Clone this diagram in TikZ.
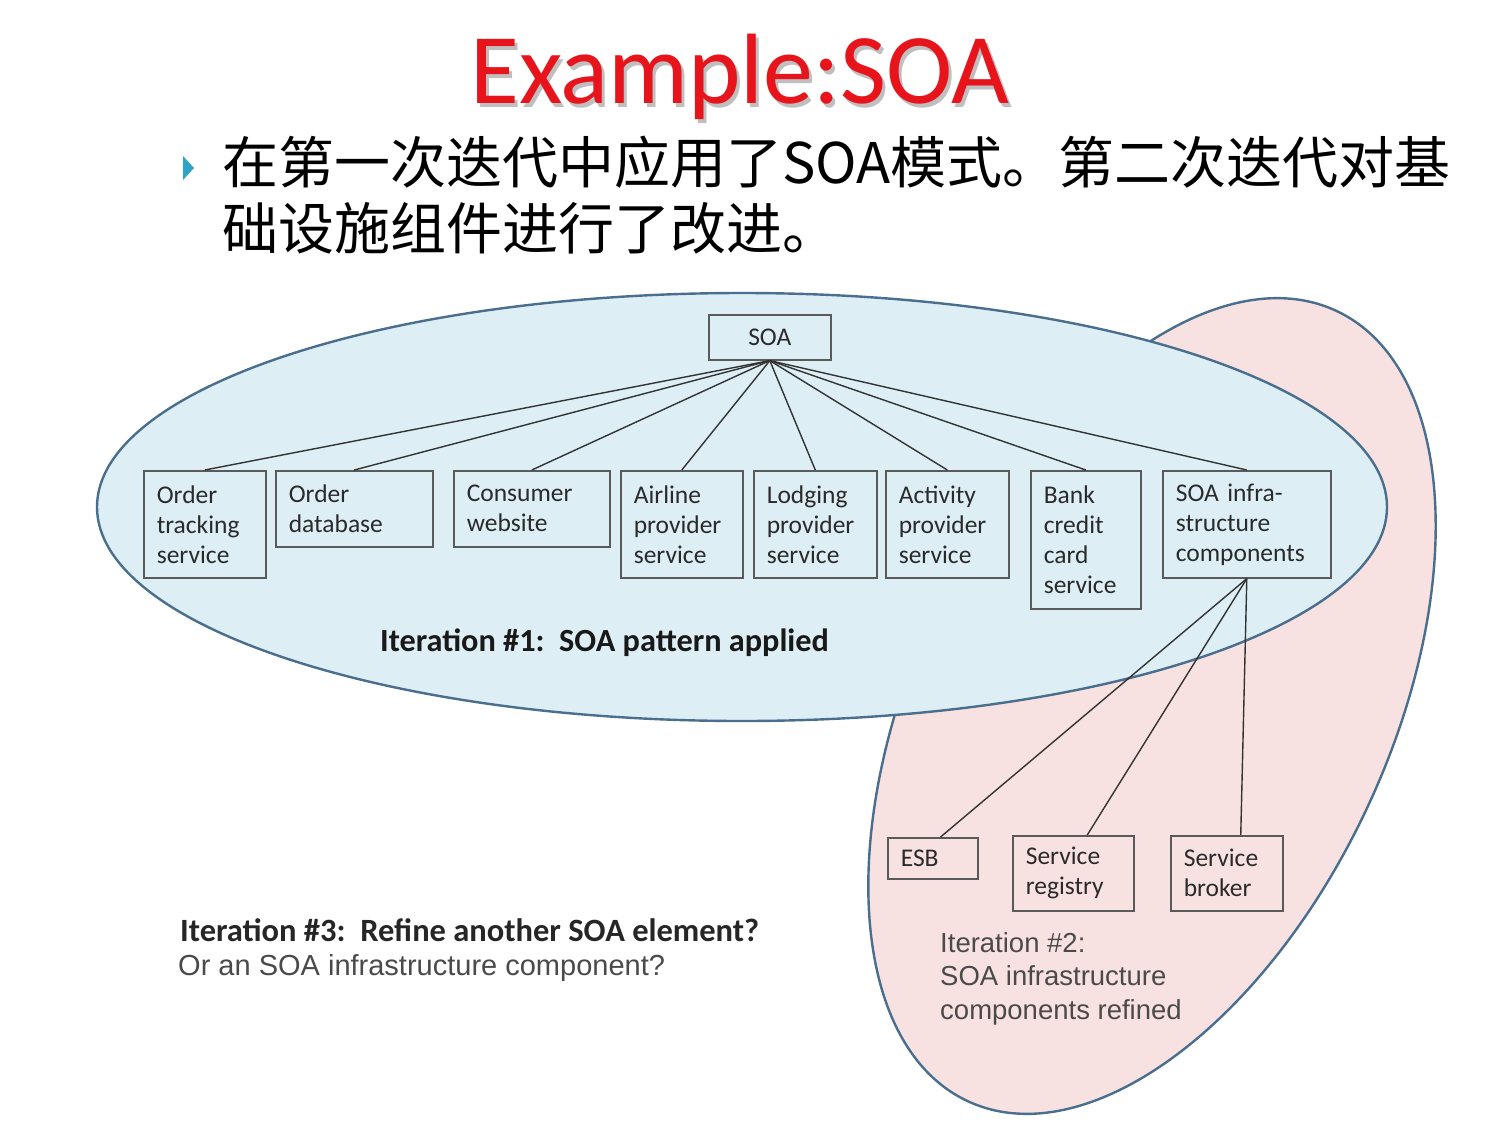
\documentclass[tikz,border=0pt]{standalone}
\usepackage{fontspec}
\setmainfont{Carlito}
\newfontfamily\arialf{Liberation Sans}
\newfontfamily\cjk{Noto Sans CJK SC}
\definecolor{titlered}{HTML}{E8141B}
\definecolor{bulletcyan}{HTML}{2EA3C4}
\definecolor{bluefill}{HTML}{DDEEF5}
\definecolor{pinkfill}{HTML}{F8E2E1}
\definecolor{edgeblue}{HTML}{4A6E8E}
\definecolor{boxline}{HTML}{5A5A5A}
\definecolor{boxtext}{HTML}{2A2A2A}
\definecolor{greytext}{HTML}{4A4A4A}
\tikzset{
  compbox/.style={draw=boxline, line width=1.6pt, anchor=north west, align=left,
    inner xsep=13pt, inner ysep=0pt, text=boxtext,
    font=\fontsize{25.5}{30}\selectfont},
  link/.style={draw=black!80, line width=1.4pt},
  zone/.style={draw=edgeblue, line width=2.4pt},
}
\begin{document}
\begin{tikzpicture}[x=1pt,y=-1pt]
\useasboundingbox (0,0) rectangle (1495,1124);
\fill[white] (0,0) rectangle (1495,1124);

% title
\node[anchor=base west, inner sep=0pt, text=black, opacity=0.25,
  font=\fontsize{100}{110}\selectfont] (titleshadow) at (473,107) {Example:SOA};
\node[anchor=base west, inner sep=0pt, text=titlered,
  font=\fontsize{100}{110}\selectfont] (title) at (470,103) {Example:SOA};

% bullet and Chinese text
\fill[bulletcyan] (183,156) -- (194,168) -- (183,180) -- cycle;
\node[anchor=base west, inner sep=0pt, font=\cjk\fontsize{56}{66}\selectfont] (line1) at (222,183)
  {在第一次迭代中应用了SOA模式。第二次迭代对基};
\node[anchor=base west, inner sep=0pt, font=\cjk\fontsize{56}{66}\selectfont] (line2) at (222,249)
  {础设施组件进行了改进。};

% zones
\fill[pinkfill, shift={(1152,706)}, rotate=65] (0,0) ellipse [x radius=436pt, y radius=238pt];
\draw[zone, shift={(1152,706)}, rotate=65] (0,0) ellipse [x radius=436pt, y radius=238pt];
\draw[zone, fill=bluefill] (742,507) ellipse [x radius=645pt, y radius=214pt];

% boxes
\node[compbox, align=center, inner xsep=0pt, minimum width=122pt, minimum height=45pt, text width=122pt] (soa) at (708,314) {SOA};
\node[compbox, minimum width=122pt, minimum height=107pt, text width=96pt] (ots) at (143,470) {Order\\tracking\\service};
\node[compbox, minimum width=157pt, minimum height=76pt, text width=131pt] (odb) at (275,470) {Order\\database};
\node[compbox, minimum width=156pt, minimum height=76pt, text width=130pt] (cw) at (453,470) {Consumer\\website};
\node[compbox, minimum width=122pt, minimum height=107pt, text width=96pt] (aps) at (620,470) {Airline\\provider\\service};
\node[compbox, minimum width=123pt, minimum height=107pt, text width=97pt] (lps) at (753,470) {Lodging\\provider\\service};
\node[compbox, minimum width=123pt, minimum height=107pt, text width=97pt] (act) at (885,470) {Activity\\provider\\service};
\node[compbox, minimum width=110pt, minimum height=138pt, text width=84pt] (bank) at (1030,470) {Bank\\credit\\card\\service};
\node[compbox, minimum width=168pt, minimum height=107pt, text width=142pt] (infra) at (1162,470) {SOA infra-\\structure\\components};

\node[compbox, minimum width=90pt, minimum height=41pt, text width=64pt] (esb) at (887,837) {ESB};
\node[compbox, minimum width=121pt, minimum height=75pt, text width=95pt] (reg) at (1012,835) {Service\\registry};
\node[compbox, minimum width=112pt, minimum height=75pt, text width=86pt] (broker) at (1170,835) {Service\\broker};

% connectors
\foreach \t in {ots,odb,cw,aps,lps,act,bank,infra}
  \draw[link] (soa.south) -- (\t.north);
\draw[link] (infra.south) -- (esb.70);
\draw[link] (infra.south) -- (reg.70);
\draw[link] (infra.south) -- (broker.70);

% labels
\node[anchor=west, inner sep=0pt, text=black!90, font=\bfseries\fontsize{32.3}{38}\selectfont] (it1) at (380,643)
  {Iteration \#1:\ \ SOA pattern applied};
\node[anchor=west, inner sep=0pt, text=black!85, font=\bfseries\fontsize{32.5}{38}\selectfont] (it3a) at (180,930)
  {Iteration \#3:\ \ Refine another SOA element?};
\node[anchor=west, inner sep=0pt, text=greytext, font=\arialf\fontsize{29}{34}\selectfont] (it3b) at (178,968)
  {Or an SOA infrastructure component?};
\node[anchor=north west, inner sep=0pt, align=left, text=greytext, font=\arialf\fontsize{27.5}{33.5}\selectfont] (it2) at (940,932)
  {Iteration \#2:\\SOA infrastructure\\components refined};
\end{tikzpicture}
\end{document}
